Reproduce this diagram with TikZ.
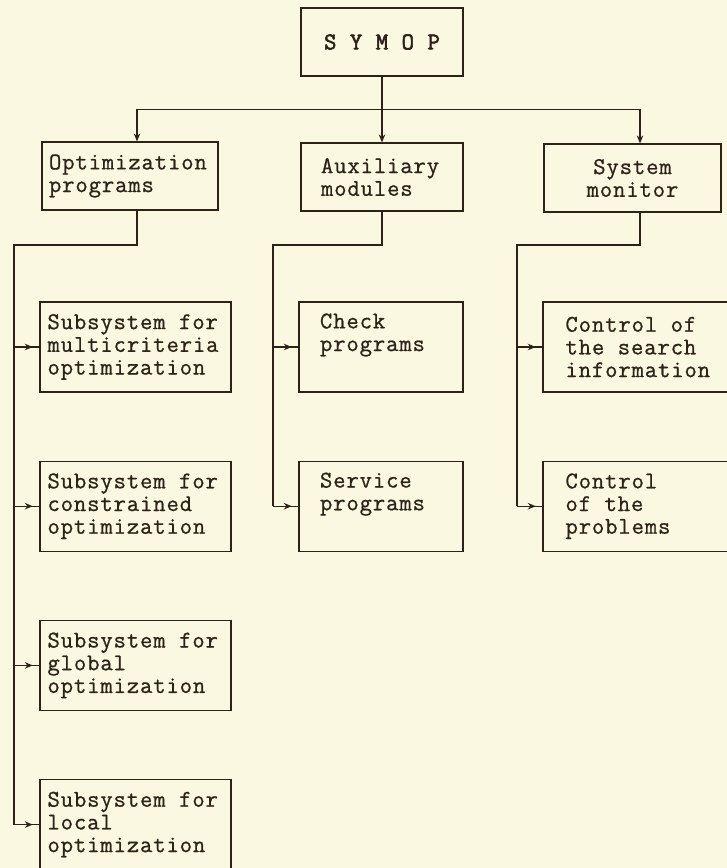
\documentclass[tikz,border=0pt]{standalone}
\usepackage{fontspec}
\setmonofont{Latin Modern Mono}[LetterSpace=3.6, FakeBold=0.8]
\newfontfamily\rootfont{Latin Modern Mono}[LetterSpace=3.6, FakeBold=2.4]
\usetikzlibrary{arrows.meta}
\usetikzlibrary{decorations.markings}
\usetikzlibrary{positioning}

\definecolor{paper}{RGB}{251,248,226}
\definecolor{ink}{RGB}{46,34,24}

\newcommand\boxfont{\ttfamily\fontsize{24}{22.7}\selectfont}
\newcommand\rootboxfont{\rootfont\fontsize{24}{22.7}\selectfont}
\newcommand\fixspace{\spaceskip 13.5pt\relax\xspaceskip 13.5pt\relax}

\tikzset{
	tip/.tip={Stealth[length=8pt,width=6.5pt]},
	box/.style={draw=ink, line width=1.2pt, inner sep=0pt, text=ink, font=\boxfont,
		execute at begin node=\fixspace},
	toprow/.style={box, minimum height=68},
	leftcol/.style={box, minimum width=191, minimum height=90, text width=176, align=left},
	midcol/.style={box, minimum width=164, minimum height=90, text width=122, align=left},
	rightcol/.style={box, minimum width=195, minimum height=90, text width=150, align=left},
	wire/.style={draw=ink, line width=1.2pt},
	feed/.style={wire, decoration={markings, mark=at position 0.74 with {\arrow[ink]{tip}}}, postaction=decorate}
}

\begin{document}
\begin{tikzpicture}[x=1pt, y=-1pt]

	\def\gap{68pt} %space between stacked boxes
	%page
	\fill[paper] (0,0) rectangle (727,868);
	\useasboundingbox (0,0) rectangle (727,868);

	%root
	\node[toprow, minimum width=162, font=\rootboxfont] (symop) at (382,42) {S Y M O P};

	%second level
	\node[toprow, minimum width=176, text width=162, align=left] (opt) at (130,176) {Optimization\\programs};
	\node[toprow, minimum width=162, text width=122, align=left] (aux) at (382,177) {Auxiliary\\modules};
	\node[toprow, minimum width=177, align=center] (mon) at (632.5,178) {System\\monitor};

	%optimization subsystems
	\node[leftcol] (sub1) at (135.5,347) {Subsystem for\\multicriteria\\optimization};
	\node[leftcol, below=\gap of sub1] (sub2) {Subsystem for\\constrained\\optimization};
	\node[leftcol, below=\gap of sub2] (sub3) {Subsystem for\\global\\optimization};
	\node[leftcol, below=\gap of sub3] (sub4) {Subsystem for\\local\\optimization};

	%auxiliary modules
	\node[midcol] (check) at (381,347) {Check\\programs\\\strut};
	\node[midcol, below=\gap of check] (service) {Service\\programs\\\strut};

	%monitor tasks
	\node[rightcol] (search) at (640.5,347) {Control of\\the search\\information};
	\node[rightcol, below=\gap of search] (probs) {Control\\of the\\problems};

	%root to second level
	\draw[wire, -tip] (symop.south) -- (aux.north);
	\draw[wire, -tip] (symop.south) ++(0,33) -| ([xshift=7pt]opt.north);
	\draw[wire, -tip] (symop.south) ++(0,33) -| ([xshift=7.5pt]mon.north);

	%bus lines
	\coordinate (lbus) at (14,245);
	\coordinate (mbus) at (273,245);
	\coordinate (rbus) at (517,245);
	\draw[wire] ([xshift=7pt]opt.south) |- (lbus) -- (lbus |- sub4.west);
	\draw[wire] (aux.south) |- (mbus) -- (mbus |- service.west);
	\draw[wire] ([xshift=7.5pt]mon.south) |- (rbus) -- (rbus |- probs.west);

	%feeders
	\foreach \n in {sub1,sub2,sub3,sub4}
		\draw[feed] (lbus |- \n.west) -- (\n.west);
	\foreach \n in {check,service}
		\draw[feed] (mbus |- \n.west) -- (\n.west);
	\foreach \n in {search,probs}
		\draw[feed] (rbus |- \n.west) -- (\n.west);

\end{tikzpicture}
\end{document}
